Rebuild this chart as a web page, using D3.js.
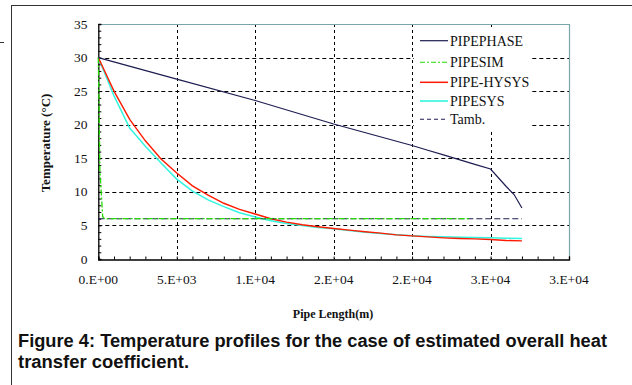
<!DOCTYPE html>
<html><head><meta charset="utf-8">
<script src="https://cdn.jsdelivr.net/npm/d3@7"></script>
<style>
html,body{margin:0;padding:0;background:#fff;}
svg{display:block;}
</style></head>
<body>
<svg id="c" width="632" height="385"></svg>
<script>
// ---- data ----
const xTickValues = [0, 5000, 10000, 15000, 20000, 25000, 30000];
const xTickLabels = ["0.E+00", "5.E+03", "1.E+04", "2.E+04", "2.E+04", "3.E+04", "3.E+04"];
const yTickValues = [0, 5, 10, 15, 20, 25, 30, 35];

const pipephaseX = [0, 5000, 10000, 15000, 20000, 21000, 22000, 23000, 24000, 25000, 26000, 26500, 27000];
const pipephaseY = [30, 26.8, 23.6, 20.1, 16.9, 16.2, 15.5, 14.8, 14.1, 13.4, 10.8, 9.6, 7.6];

const pipesimX = [0, 40, 100, 280, 400, 23600];
const pipesimY = [30, 24, 13.3, 6.3, 6.0, 6.0];

const hysysX = [0, 1000, 2000, 2500, 3000, 4000, 5000, 6000, 7000, 8000, 9000, 10000, 11000, 12000, 13000, 14000, 15000, 16000, 17000, 18000, 19000, 20000, 21000, 22000, 23000, 24000, 25000, 26000, 27000];
const hysysY = [30, 25.0, 20.8, 19.2, 17.6, 14.9, 12.8, 10.9, 9.5, 8.3, 7.4, 6.7, 6.0, 5.5, 5.1, 4.8, 4.55, 4.3, 4.05, 3.85, 3.6, 3.45, 3.3, 3.15, 3.05, 3.0, 2.9, 2.75, 2.7];

const pipesysX = [0, 1000, 2000, 3000, 4000, 5000, 6000, 7000, 8000, 9000, 10000, 11000, 12000, 13000, 14000, 15000, 16000, 17000, 18000, 19000, 20000, 21000, 22000, 23000, 24000, 25000, 26000, 27000];
const pipesysY = [30, 24.3, 19.5, 16.8, 14.3, 11.9, 10.1, 8.8, 7.8, 6.9, 6.25, 5.7, 5.3, 5.0, 4.7, 4.5, 4.25, 4.0, 3.8, 3.6, 3.45, 3.35, 3.3, 3.25, 3.2, 3.15, 3.1, 3.05];

const tambX = [0, 27000];
const tambY = [6, 6];

const seriesNames = ["PIPEPHASE", "PIPESIM", "PIPE-HYSYS", "PIPESYS", "Tamb."];

// ---- drawing ----
const svg = d3.select("#c");
const L = 98.3, R = 569, T = 24, B = 259;
const x = d3.scaleLinear().domain([0, 30000]).range([L, R]);
const y = d3.scaleLinear().domain([0, 35]).range([B, T]);
const serif = "'Liberation Serif','Times New Roman',serif";

// outer frame
svg.append("rect").attr("x", 11.5).attr("y", 5.5).attr("width", 700).attr("height", 500)
  .attr("fill", "none").attr("stroke", "#333").attr("stroke-width", 1);
svg.append("line").attr("x1", 0).attr("x2", 4).attr("y1", 42.5).attr("y2", 42.5)
  .attr("stroke", "#333").attr("stroke-width", 1);

// gridlines
const g = svg.append("g");
[5, 10, 15, 20, 25, 30].forEach(v => {
  g.append("line").attr("x1", L).attr("x2", R).attr("y1", Math.round(y(v)) + 0.5).attr("y2", Math.round(y(v)) + 0.5)
    .attr("stroke", "#000").attr("stroke-width", 1).attr("stroke-dasharray", "4,3");
});
[5000, 10000, 15000, 20000, 25000].forEach(v => {
  g.append("line").attr("y1", T).attr("y2", B).attr("x1", Math.round(x(v)) + 0.5).attr("x2", Math.round(x(v)) + 0.5)
    .attr("stroke", "#000").attr("stroke-width", 1).attr("stroke-dasharray", "3,3");
});

// plot border top/right
svg.append("line").attr("x1", L).attr("x2", R + 0.5).attr("y1", T + 0.5).attr("y2", T + 0.5)
  .attr("stroke", "#7aa6ab").attr("stroke-width", 1.2);
svg.append("line").attr("x1", R + 0.5).attr("x2", R + 0.5).attr("y1", T).attr("y2", B)
  .attr("stroke", "#7aa6ab").attr("stroke-width", 1.2);

// axes
const xAxis = d3.axisBottom(x).tickValues(d3.range(0, 30001, 1000)).tickSize(-3).tickFormat("");
const yAxis = d3.axisLeft(y).tickValues(d3.range(0, 36, 1)).tickSize(-3).tickFormat("");
const gx = svg.append("g").attr("transform", `translate(0,${B + 0.5})`).call(xAxis);
const gy = svg.append("g").attr("transform", `translate(${L},0)`).call(yAxis);
[gx, gy].forEach(a => {
  a.select(".domain").attr("stroke", "#000").attr("stroke-width", 1.3);
  a.selectAll(".tick line").attr("stroke", "#000");
});

// tick labels
const lab = svg.append("g").attr("font-family", serif).attr("font-size", 13.5).attr("fill", "#111");
xTickValues.forEach((v, i) => {
  lab.append("text").attr("x", x(v)).attr("y", 284).attr("text-anchor", "middle").text(xTickLabels[i]);
});
yTickValues.forEach(v => {
  lab.append("text").attr("x", 87.5).attr("y", y(v) + 4.5).attr("text-anchor", "end").text(v);
});

// axis titles
svg.append("text").attr("transform", "translate(50,143) rotate(-90)").attr("text-anchor", "middle")
  .attr("font-family", serif).attr("font-weight", "bold")
  .attr("font-size", 13).attr("fill", "#111").text("Temperature (°C)");
svg.append("text").attr("x", 333).attr("y", 318).attr("text-anchor", "middle")
  .attr("font-family", serif).attr("font-weight", "bold")
  .attr("font-size", 12).attr("fill", "#111").text("Pipe Length(m)");

// legend background
svg.append("rect").attr("x", 414).attr("y", 27).attr("width", 117).attr("height", 102).attr("fill", "#fff");

// series
const line = d3.line().x(d => x(d[0])).y(d => y(d[1]));
const zip = (a, b) => a.map((v, i) => [v, b[i]]);
const styles = [
  { data: zip(pipesysX, pipesysY), color: "#33f5df", w: 1.5, dash: null },
  { data: zip(hysysX, hysysY), color: "#ff1a00", w: 1.4, dash: null },
  { data: zip(tambX, tambY), color: "#1c1c50", w: 1.1, dash: "6,3" },
  { data: zip(pipesimX, pipesimY), color: "#22dd00", w: 1.3, dash: "6,2,2,2" },
  { data: zip(pipephaseX, pipephaseY), color: "#1c1c50", w: 1.2, dash: null }
];
styles.forEach(s => {
  svg.append("path").attr("d", line(s.data)).attr("fill", "none").attr("stroke", s.color)
    .attr("stroke-width", s.w).attr("stroke-dasharray", s.dash);
});

// legend
const legStyles = [
  { color: "#1c1c50", w: 1.2, dash: null },
  { color: "#22dd00", w: 1.1, dash: "5,2,2,2" },
  { color: "#ff1a00", w: 1.5, dash: null },
  { color: "#33f5df", w: 1.6, dash: null },
  { color: "#1c1c50", w: 1.1, dash: "4,3" }
];
const legY = [40.7, 62.3, 82.3, 101, 119.3];
seriesNames.forEach((n, i) => {
  svg.append("line").attr("x1", 420).attr("x2", 448).attr("y1", legY[i]).attr("y2", legY[i])
    .attr("stroke", legStyles[i].color).attr("stroke-width", legStyles[i].w).attr("stroke-dasharray", legStyles[i].dash);
  svg.append("text").attr("x", 450).attr("y", legY[i] + 5)
    .attr("font-family", serif).attr("font-size", 14)
    .attr("fill", "#111").text(n);
});

// caption
const cap = svg.append("g").attr("font-family", "'Liberation Sans',Arial,sans-serif").attr("font-weight", "bold")
  .attr("font-size", 17.5).attr("fill", "#111");
cap.append("text").attr("x", 18).attr("y", 346.5).attr("textLength", 589).attr("lengthAdjust", "spacingAndGlyphs")
  .text("Figure 4: Temperature profiles for the case of estimated overall heat");
cap.append("text").attr("x", 18).attr("y", 367.5).attr("textLength", 171).attr("lengthAdjust", "spacingAndGlyphs")
  .text("transfer coefficient.");
</script>
</body></html>
